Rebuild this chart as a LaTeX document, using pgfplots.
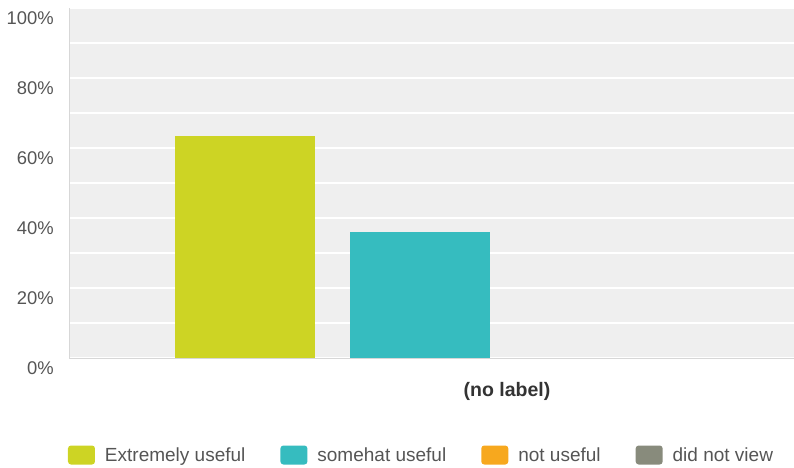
\documentclass[border=0pt]{standalone}
\usepackage{pgfplots}
\pgfplotsset{compat=1.18}
\usepackage{fontspec}
\setmainfont{Liberation Sans}
\definecolor{cA}{RGB}{205,212,36}
\definecolor{cB}{RGB}{54,188,191}
\definecolor{cC}{RGB}{247,168,30}
\definecolor{cD}{RGB}{136,139,124}
\definecolor{bgc}{RGB}{239,239,239}
\definecolor{txtg}{RGB}{85,85,85}
\definecolor{axg}{RGB}{215,215,215}
\begin{document}
\begin{tikzpicture}
\useasboundingbox (-69pt,-109pt) rectangle (725pt,358pt);
\begin{axis}[
  at={(0pt,0pt)}, anchor=south west,
  scale only axis, width=725pt, height=350pt,
  xmin=-438, xmax=287, ymin=0, ymax=100,
  axis background/.style={fill=bgc},
  axis x line*=bottom, axis y line*=left,
  x axis line style={-, draw=axg, line width=1pt},
  y axis line style={-, draw=axg, line width=1pt},
  ytick={0,20,...,100}, minor ytick={10,30,...,90},
  ymajorgrids, yminorgrids,
  major grid style={white, line width=1.5pt},
  minor grid style={white, line width=1.5pt},
  major tick length=0pt, minor tick length=0pt,
  /pgf/number format/assume math mode=true,
  yticklabel={\pgfmathprintnumber{\tick}\%},
  yticklabel style={font=\fontsize{18.4}{20}\selectfont, text=txtg, anchor=east, inner sep=0pt, xshift=-15pt, yshift=-10pt},
  xtick={0}, xticklabels={(no label)},
  xticklabel style={font=\fontsize{19.5}{22}\selectfont\bfseries, text=black!80, anchor=center, inner sep=0pt, yshift=-33pt},
  ybar, bar width=140,
  legend columns=4,
  legend image code/.code={\fill[rounded corners=3pt, fill opacity=1] (0pt,-9.5pt) rectangle (27pt,9.5pt);},
  legend style={draw=none, fill=none, at={(axis description cs:0,0)}, anchor=center, xshift=351.5pt, yshift=-97pt,
    nodes={inner sep=0pt, text=txtg, font=\fontsize{19}{22}\selectfont},
    column sep=10pt,
    /tikz/every even column/.append style={column sep=35pt}},
]
\addplot[fill=cA, draw=none, bar shift=0pt] coordinates {(-262.5,63.3)};
\addlegendentry{Extremely useful}
\addplot[fill=cB, draw=none, bar shift=0pt] coordinates {(-87.5,36.0)};
\addlegendentry{somehat useful}
\addplot[fill=cC, draw=none, fill opacity=0, bar shift=0pt] coordinates {(87.5,0)};
\addlegendentry{not useful}
\addplot[fill=cD, draw=none, fill opacity=0, bar shift=0pt] coordinates {(262.5,0)};
\addlegendentry{did not view}
\end{axis}
\end{tikzpicture}
\end{document}
